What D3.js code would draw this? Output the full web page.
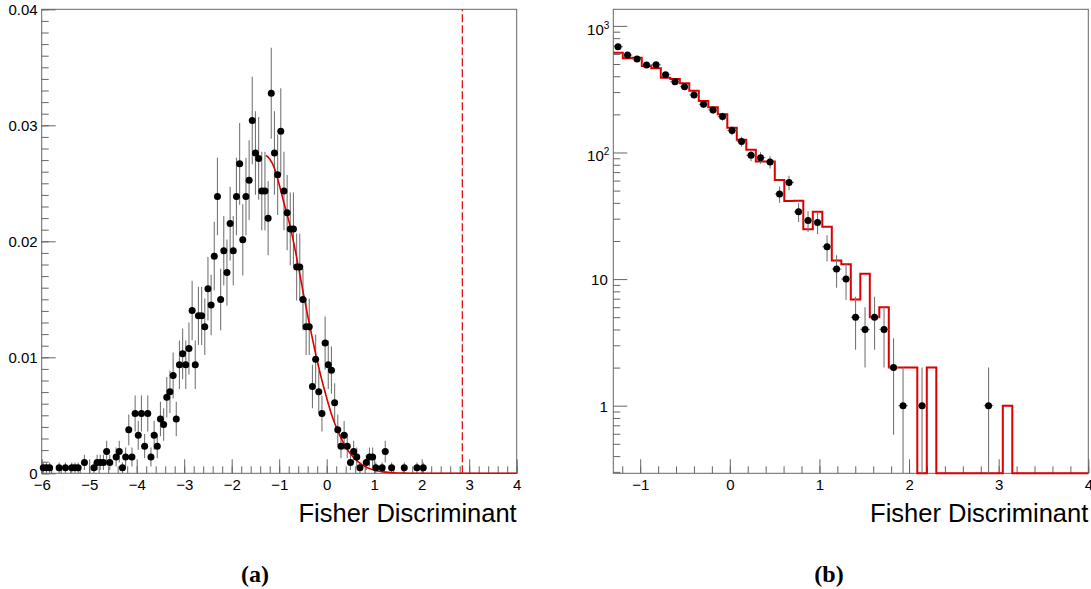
<!DOCTYPE html>
<html><head><meta charset="utf-8">
<script src="https://cdn.jsdelivr.net/npm/d3@7"></script>
<style>
html,body{margin:0;padding:0;background:#fff;}
svg{display:block;}
</style></head>
<body>
<svg id="c" width="1091" height="589"></svg>
<script>
// ---------- Panel (a): data ----------
const leftX = [-5.967,-5.900,-5.833,-5.633,-5.500,-5.367,-5.300,-5.233,-5.100,-4.900,-4.833,-4.767,-4.700,-4.633,-4.567,-4.433,-4.367,-4.300,-4.233,-4.167,-4.100,-4.033,-3.967,-3.900,-3.833,-3.767,-3.700,-3.633,-3.567,-3.500,-3.433,-3.367,-3.300,-3.233,-3.167,-3.100,-3.033,-2.967,-2.900,-2.833,-2.767,-2.700,-2.633,-2.567,-2.500,-2.433,-2.367,-2.300,-2.233,-2.167,-2.100,-2.033,-1.967,-1.900,-1.833,-1.767,-1.700,-1.633,-1.567,-1.500,-1.433,-1.367,-1.300,-1.233,-1.167,-1.100,-1.033,-0.967,-0.900,-0.833,-0.767,-0.700,-0.633,-0.567,-0.500,-0.433,-0.367,-0.300,-0.233,-0.167,-0.100,-0.033,0.033,0.100,0.167,0.233,0.300,0.367,0.433,0.500,0.567,0.633,0.700,0.833,0.900,0.967,1.033,1.167,1.233,1.367,1.633,1.900,2.033];
const leftY = [0.000468,0.000468,0.000468,0.000468,0.000468,0.000468,0.000468,0.000468,0.000936,0.000468,0.000936,0.000936,0.000936,0.001872,0.000936,0.001404,0.001872,0.000468,0.001404,0.003744,0.001404,0.005148,0.003276,0.005148,0.00234,0.005148,0.001404,0.003276,0.00234,0.00468,0.004212,0.006552,0.00702,0.008424,0.00468,0.00936,0.010296,0.00936,0.010764,0.01404,0.00936,0.013572,0.013572,0.012636,0.015912,0.014508,0.01872,0.023868,0.014976,0.019188,0.017316,0.021528,0.019188,0.023868,0.026676,0.020124,0.023868,0.025272,0.03042,0.027612,0.027144,0.024336,0.024336,0.021996,0.03276,0.027612,0.02574,0.029484,0.024336,0.022464,0.02106,0.02106,0.017784,0.017784,0.014976,0.012636,0.012636,0.007488,0.009828,0.00702,0.005148,0.011232,0.00936,0.008892,0.006084,0.003744,0.00234,0.003276,0.00234,0.000936,0.001872,0.001404,0.000468,0.000936,0.001404,0.001404,0.000468,0.000468,0.001872,0.000468,0.000468,0.000468,0.000468];
const leftErr = [0.000468,0.000468,0.000468,0.000468,0.000468,0.000468,0.000468,0.000468,0.000662,0.000468,0.000662,0.000662,0.000662,0.000936,0.000662,0.000811,0.000936,0.000468,0.000811,0.001324,0.000811,0.001552,0.001238,0.001552,0.001046,0.001552,0.000811,0.001238,0.001046,0.00148,0.001404,0.001751,0.001813,0.001986,0.00148,0.002093,0.002195,0.002093,0.002245,0.002563,0.002093,0.00252,0.00252,0.002432,0.002729,0.002606,0.00296,0.003342,0.002647,0.002997,0.002847,0.003174,0.002997,0.003342,0.003533,0.003069,0.003342,0.003439,0.003773,0.003595,0.003564,0.003375,0.003375,0.003209,0.003916,0.003595,0.003471,0.003715,0.003375,0.003242,0.003139,0.003139,0.002885,0.002885,0.002647,0.002432,0.002432,0.001872,0.002145,0.001813,0.001552,0.002293,0.002093,0.00204,0.001688,0.001324,0.001046,0.001238,0.001046,0.000662,0.000936,0.000811,0.000468,0.000662,0.000811,0.000811,0.000468,0.000468,0.000936,0.000468,0.000468,0.000468,0.000468];
const fitX = [-1.28,-1.2,-1.1,-1.0,-0.9,-0.8,-0.7,-0.6,-0.5,-0.4,-0.3,-0.2,-0.1,0.0,0.1,0.2,0.3,0.4,0.5,0.6,0.7,0.8,0.9,1.0,1.1,1.2,1.3,1.4,1.6,2.0,4.0];
const fitY = [0.02740,0.02710,0.02630,0.02490,0.02330,0.02180,0.02000,0.01790,0.01570,0.01360,0.01160,0.00970,0.00800,0.00650,0.00510,0.00400,0.00305,0.00228,0.00168,0.00122,0.00087,0.00060,0.00041,0.00028,0.00018,0.00012,0.00008,0.00005,0.00002,0.0,0.0];
const cutValue = 2.855;
const leftXTicks = [-6,-5,-4,-3,-2,-1,0,1,2,3,4];
const leftYTicks = [0,0.01,0.02,0.03,0.04];
const leftYTickLabels = ["0","0.01","0.02","0.03","0.04"];

// ---------- Panel (b): data ----------
const binEdges = [-1.3,-1.194,-1.088,-0.982,-0.876,-0.77,-0.664,-0.558,-0.452,-0.346,-0.24,-0.134,-0.028,0.078,0.184,0.29,0.396,0.502,0.608,0.714,0.82,0.926,1.032,1.138,1.244,1.35,1.456,1.562,1.668,1.774,1.88,1.986,2.092,2.198,2.304,2.41,2.516,2.622,2.728,2.834,2.94,3.046,3.152,3.258,3.364,3.47,3.576,3.682,3.788,3.894,4.0];
const histCounts = [614,555,561,482,462,390,381,352,308,255,228,200,157,126,105,85,85,60.6,41.4,41.5,24.7,34,25.9,14.0,13.1,6.9,11.0,5.0,6.0,2,2,2,0,2,0,0,0,0,0,0,0,1,0,0,0,0,0,0,0,0];
const rightX = [-1.247,-1.141,-1.035,-0.929,-0.823,-0.717,-0.611,-0.505,-0.399,-0.293,-0.187,-0.081,0.025,0.131,0.237,0.343,0.449,0.555,0.661,0.767,0.873,0.979,1.085,1.191,1.297,1.403,1.509,1.615,1.721,1.827,1.933,2.145,2.887];
const rightY = [685,589,548,491,494,412,362,331,285,240,217,192,149,122,95,91,84,47,58,34,29,28,18,12,10,5,4,5,4,2,1,1,1];
const rightErr = [26.2,24.3,23.4,22.2,22.2,20.3,19.0,18.2,16.9,15.5,14.7,13.9,12.2,11.0,9.7,9.5,9.2,6.9,7.6,5.8,5.4,5.3,4.24,3.46,3.16,2.24,2.0,2.24,2.0,1.41,1.0,1.0,1.0];
const rightXTicks = [-1,0,1,2,3,4];
const rightYTicks = [1,10,100,1000];
const axisTitle = "Fisher Discriminant";
const panelLabels = ["(a)","(b)"];

// ---------- drawing ----------
const svg = d3.select("#c");
const RED = "#dd0000";
const AX = "#666";
const SANS = "'Liberation Sans',Arial,Helvetica,sans-serif";
const SERIF = "'Liberation Serif','Times New Roman',serif";
const TICKFS = 15;
const yTop = 9.3, yBot = 473.3;

function frame(g, x0, x1){
  g.append("rect").attr("x",x0).attr("y",yTop).attr("width",x1-x0).attr("height",yBot-yTop)
    .attr("fill","none").attr("stroke",AX).attr("stroke-width",1);
}
function styleAxis(sel){
  sel.select(".domain").remove();
  sel.selectAll(".tick line").attr("stroke",AX).attr("stroke-width",1);
  sel.selectAll(".tick text").style("font-size",TICKFS+"px").style("fill","#000")
     .style("font-family",SANS);
}
const fmtTick = d => (d<0 ? "\u2212"+Math.abs(d) : String(d));
function title(g, x){
  g.append("text").attr("x",x).attr("y",522).attr("text-anchor","end")
   .style("font-family",SANS).style("font-size","25.5px").style("fill","#000").text(axisTitle);
}
function panelLabel(g, x, s){
  g.append("text").attr("x",x).attr("y",582).attr("text-anchor","middle")
   .style("font-family",SERIF).style("font-weight","bold").style("font-size","24px").style("fill","#000").text(s);
}

// ---- Panel (a) ----
const la = {x0:41.7, x1:516.7};
const xa = d3.scaleLinear().domain([-6,4]).range([la.x0, la.x1]);
const ya = d3.scaleLinear().domain([0,0.04]).range([yBot, yTop]);
const ga = svg.append("g");

ga.append("g").attr("transform",`translate(0,${yBot})`)
  .call(d3.axisBottom(xa).tickValues(d3.range(-6,4.0001,0.2)).tickSize(-7).tickFormat(""))
  .call(styleAxis);
ga.append("g").attr("transform",`translate(0,${yBot})`)
  .call(d3.axisBottom(xa).tickValues(leftXTicks).tickSize(-14).tickPadding(6).tickFormat(fmtTick))
  .call(styleAxis);
ga.append("g").attr("transform",`translate(${la.x0},0)`)
  .call(d3.axisLeft(ya).tickValues(d3.range(0,0.04001,0.001)).tickSize(-7).tickFormat(""))
  .call(styleAxis);
ga.append("g").attr("transform",`translate(${la.x0},0)`)
  .call(d3.axisLeft(ya).tickValues(leftYTicks).tickSize(-14).tickPadding(4).tickFormat((d,i)=>leftYTickLabels[i]))
  .call(styleAxis);
frame(ga, la.x0, la.x1);

const ptsA = leftX.map((x,i)=>({x, y:leftY[i], e:leftErr[i]}));
ga.append("g").selectAll("line").data(ptsA).join("line")
  .attr("x1",d=>xa(d.x)).attr("x2",d=>xa(d.x))
  .attr("y1",d=>ya(Math.max(0,d.y-d.e))).attr("y2",d=>ya(d.y+d.e))
  .attr("stroke","#777").attr("stroke-width",1.1);
ga.append("path").datum(fitX.map((x,i)=>[x,fitY[i]]))
  .attr("d", d3.line().x(d=>xa(d[0])).y(d=>ya(d[1])).curve(d3.curveMonotoneX))
  .attr("fill","none").attr("stroke",RED).attr("stroke-width",1.6);
ga.append("g").selectAll("circle").data(ptsA).join("circle")
  .attr("cx",d=>xa(d.x)).attr("cy",d=>ya(d.y)).attr("r",3.5).attr("fill","#000");
ga.append("line").attr("x1",xa(cutValue)).attr("x2",xa(cutValue)).attr("y1",yBot).attr("y2",yTop)
  .attr("stroke",RED).attr("stroke-width",1.2).attr("stroke-dasharray","8,3");
title(ga, la.x1);
panelLabel(ga, 255, panelLabels[0]);

// ---- Panel (b) ----
const lb = {x0:613.3, x1:1088.3};
const xb = d3.scaleLinear().domain([-1.3,4]).range([lb.x0, lb.x1]);
const yb = d3.scaleLog().domain([0.2924,1352]).range([yBot, yTop]);
const gb = svg.append("g");

gb.append("g").attr("transform",`translate(0,${yBot})`)
  .call(d3.axisBottom(xb).tickValues(d3.range(-1.2,4.0001,0.2)).tickSize(-7).tickFormat(""))
  .call(styleAxis);
gb.append("g").attr("transform",`translate(0,${yBot})`)
  .call(d3.axisBottom(xb).tickValues(rightXTicks).tickSize(-14).tickPadding(6).tickFormat(fmtTick))
  .call(styleAxis);
const minorLog = [];
[0.1,1,10,100,1000].forEach(dec=>{ for(let k=2;k<=9;k++){ const v=dec*k; if(v>=0.2924 && v<=1352) minorLog.push(v);} });
gb.append("g").attr("transform",`translate(${lb.x0},0)`)
  .call(d3.axisLeft(yb).tickValues(minorLog).tickSize(-7).tickFormat(""))
  .call(styleAxis);
const yAxB = gb.append("g").attr("transform",`translate(${lb.x0},0)`)
  .call(d3.axisLeft(yb).tickValues(rightYTicks).tickSize(-14).tickFormat(""))
  .call(styleAxis);
yAxB.selectAll(".tick").each(function(d){
  const t = d3.select(this).append("text").attr("text-anchor","end").attr("dy","0.36em")
    .style("font-size",TICKFS+"px").style("fill","#000").style("font-family",SANS);
  if (d >= 100) {
    const p = Math.round(Math.log10(d));
    t.attr("x",-4).attr("dy","0.55em");
    t.append("tspan").text("10");
    t.append("tspan").style("font-size","10px").attr("dy","-0.6em").text(String(p));
  } else {
    t.attr("x",-5.5).text(String(d));
  }
});
frame(gb, lb.x0, lb.x1);

const yFloor = yb.domain()[0];
const stepPts = [];
histCounts.forEach((c,i)=>{
  const v = c>0 ? c : yFloor;
  stepPts.push([binEdges[i], v]); stepPts.push([binEdges[i+1], v]);
});
gb.append("path").datum(stepPts)
  .attr("d", d3.line().x(d=>xb(d[0])).y(d=>yb(d[1])))
  .attr("fill","none").attr("stroke",RED).attr("stroke-width",2);

const halfW = (binEdges[1]-binEdges[0])/2;
const ptsB = rightX.map((x,i)=>({x, y:rightY[i], e:rightErr[i]}));
gb.append("g").selectAll("line.v").data(ptsB).join("line")
  .attr("x1",d=>xb(d.x)).attr("x2",d=>xb(d.x))
  .attr("y1",d=>yb(Math.max(yFloor, d.y-d.e))).attr("y2",d=>yb(d.y+d.e))
  .attr("stroke","#777").attr("stroke-width",1.1);
gb.append("g").selectAll("line.h").data(ptsB).join("line")
  .attr("x1",d=>xb(d.x-halfW)).attr("x2",d=>xb(d.x+halfW))
  .attr("y1",d=>yb(d.y)).attr("y2",d=>yb(d.y))
  .attr("stroke","#777").attr("stroke-width",1.1);
gb.append("g").selectAll("circle").data(ptsB).join("circle")
  .attr("cx",d=>xb(d.x)).attr("cy",d=>yb(d.y)).attr("r",3.5).attr("fill","#000");
title(gb, lb.x1);
panelLabel(gb, 829, panelLabels[1]);
</script>
</body></html>
